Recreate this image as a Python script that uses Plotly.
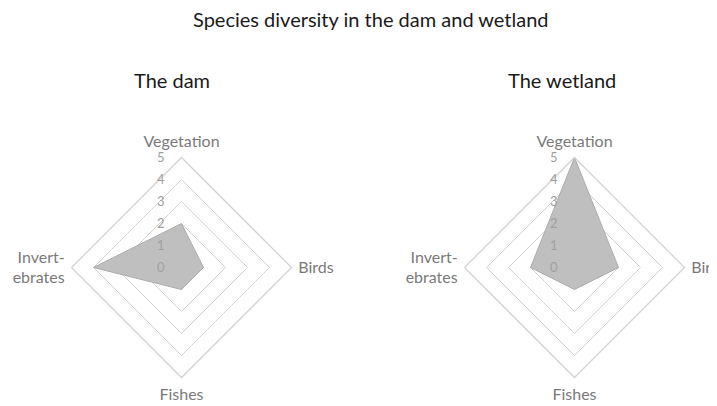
import plotly.graph_objects as go

# ---- data ----
categories = ["Vegetation", "Birds", "Fishes", "Invert-<br>ebrates"]
dam_values = [2, 1, 1, 4]
wetland_values = [5, 2, 1, 2]
radial_ticks = [0, 1, 2, 3, 4, 5]
chart_title = "Species diversity in the dam and wetland"
subtitles = ["The dam", "The wetland"]

FONT = "Lato"
GRID = "#d2d2d2"
LABEL = "#7a7a7a"
FILL = "#bfbfbf"
EDGE = "#ababab"

# page shows the figure offset by the 8px default body margin
W, H = 709, 398

fig = go.Figure()

for i, vals in enumerate([dam_values, wetland_values]):
    sub = "polar" if i == 0 else "polar2"
    fig.add_trace(go.Scatterpolar(
        r=vals + vals[:1],
        theta=categories + categories[:1],
        mode="lines",
        fill="toself",
        fillcolor=FILL,
        line=dict(color=EDGE, width=1),
        subplot=sub,
        hoverinfo="skip",
        showlegend=False,
    ))

# invisible traces to hold the overlay subplots (radial tick labels drawn above the fill)
for sub in ["polar3", "polar4"]:
    fig.add_trace(go.Scatterpolar(
        r=[radial_ticks[0]], theta=[0], mode="markers",
        marker=dict(opacity=0), subplot=sub, hoverinfo="skip", showlegend=False,
    ))

R = 110
cy = H - 259.5
ydom = [(cy - R) / H, (cy + R) / H]
doms = [[(173.5 - R) / W, (173.5 + R) / W], [(566.5 - R) / W, (566.5 + R) / W]]

def base_polar(xd):
    return dict(
        domain=dict(x=xd, y=ydom),
        gridshape="linear",
        bgcolor="white",
        angularaxis=dict(
            direction="clockwise", rotation=90,
            categoryorder="array", categoryarray=categories,
            showgrid=False, showline=True, linecolor=GRID, linewidth=1.3,
            ticks="outside", ticklen=3, tickcolor="rgba(0,0,0,0)",
            tickfont=dict(family=FONT, size=16, color=LABEL),
        ),
        radialaxis=dict(
            range=[0, radial_ticks[-1]], tickvals=radial_ticks[1:],
            showgrid=True, gridcolor=GRID, gridwidth=1.3,
            showline=False, showticklabels=False, ticks="",
        ),
    )

def overlay_polar(xd):
    return dict(
        domain=dict(x=xd, y=ydom),
        gridshape="linear",
        bgcolor="rgba(0,0,0,0)",
        angularaxis=dict(visible=False),
        radialaxis=dict(
            range=[0, radial_ticks[-1]], tickvals=radial_ticks,
            angle=90, side="counterclockwise", tickangle=90,
            showgrid=False, showline=False,
            ticks="outside", ticklen=12, tickcolor="rgba(0,0,0,0)",
            tickfont=dict(family=FONT, size=13, color="#a0a0a0"),
        ),
    )

fig.update_layout(
    width=W, height=H,
    margin=dict(l=0, r=0, t=0, b=0),
    paper_bgcolor="white",
    polar=base_polar(doms[0]),
    polar2=base_polar(doms[1]),
    polar3=overlay_polar(doms[0]),
    polar4=overlay_polar(doms[1]),
    showlegend=False,
    annotations=[
        dict(text=chart_title, x=363 / W, y=1 - 11 / H, xref="paper", yref="paper",
             showarrow=False, xanchor="center", yanchor="middle",
             font=dict(family=FONT, size=20, color="#1a1a1a")),
        dict(text=subtitles[0], x=164 / W, y=1 - 72 / H, xref="paper", yref="paper",
             showarrow=False, xanchor="center", yanchor="middle",
             font=dict(family=FONT, size=20, color="#1a1a1a")),
        dict(text=subtitles[1], x=553.5 / W, y=1 - 72 / H, xref="paper", yref="paper",
             showarrow=False, xanchor="center", yanchor="middle",
             font=dict(family=FONT, size=20, color="#1a1a1a")),
    ],
)

fig.write_html("out.html")
